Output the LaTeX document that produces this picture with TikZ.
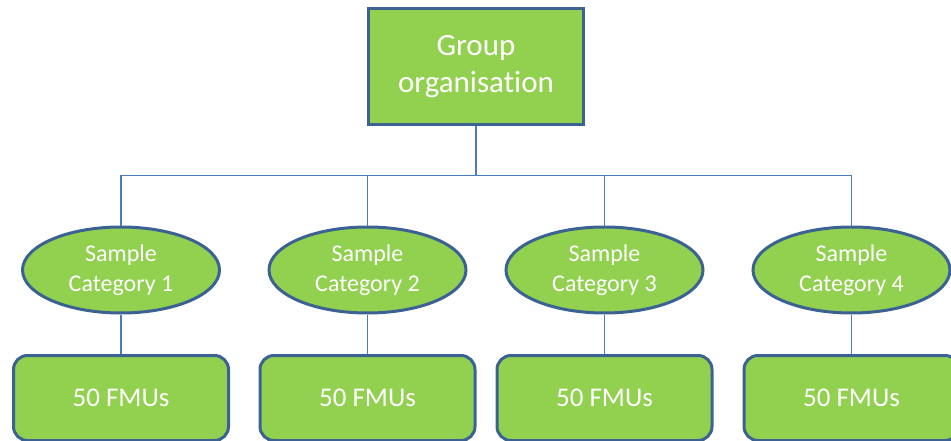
\documentclass[tikz,border=0pt]{standalone}
\usepackage{fontspec}
\setmainfont{Carlito}[Ligatures=NoCommon]
\usetikzlibrary{shapes.geometric}

\definecolor{boxgreen}{HTML}{92D050}
\definecolor{boxedge}{HTML}{3B6292}
\definecolor{linkblue}{HTML}{4A7EBB}

\tikzset{
    orgbox/.style = {draw=boxedge, line width=3pt, fill=boxgreen, text=white,
        align=center, inner sep=0pt, minimum width=215pt, minimum height=116pt,
        font=\fontsize{31}{37}\selectfont},
    catnode/.style = {ellipse, draw=boxedge, line width=3pt, fill=boxgreen, text=white,
        align=center, inner sep=0pt, minimum width=197pt, minimum height=86pt,
        font=\fontsize{24}{29.5}\selectfont},
    fmubox/.style = {draw=boxedge, line width=3pt, fill=boxgreen, text=white,
        rounded corners=14pt, inner sep=0pt, minimum width=215pt, minimum height=85pt,
        font=\fontsize{27}{32}\selectfont},
    link/.style = {draw=linkblue, line width=1.4pt},
}

\begin{document}
\begin{tikzpicture}[x=1pt, y=-1pt]

\useasboundingbox (0,0) rectangle (951,441);

\node[orgbox] (org) at (476,67) {Group\\organisation};

\foreach \i/\x in {1/121, 2/367.5, 3/604.5, 4/851.5}
{
    \node[catnode] (cat\i) at (\x,270) {Sample\\Category \i};
    \node[fmubox] (fmu\i) at (\x,398) {50 FMUs};
    \draw[link] (org.south) -- ++(0,49) -| (cat\i.north);
    \draw[link] (cat\i.south) -- (fmu\i.north);
}

\end{tikzpicture}
\end{document}
